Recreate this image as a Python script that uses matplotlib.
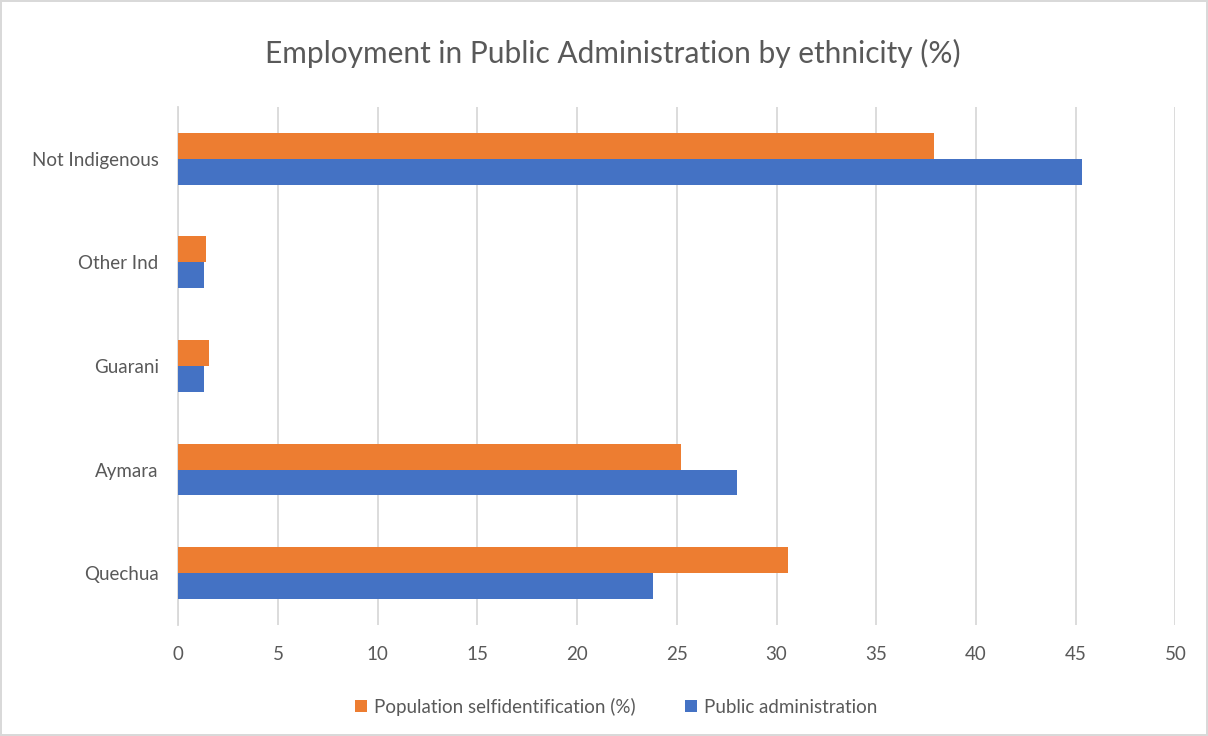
import numpy as np
import matplotlib
matplotlib.use("Agg")
import matplotlib.pyplot as plt

categories = ["Quechua", "Aymara", "Guarani", "Other Ind", "Not Indigenous"]
population_self_id = [30.6, 25.2, 1.55, 1.4, 37.9]
public_admin = [23.8, 28.0, 1.3, 1.3, 45.3]
xticks = [0, 5, 10, 15, 20, 25, 30, 35, 40, 45, 50]

ORANGE = "#ED7D31"
BLUE = "#4472C4"
GREY = "#595959"


def main():
    plt.rcParams['font.family'] = ['Lato', 'DejaVu Sans']

    fig = plt.figure(figsize=(12.08, 7.36), dpi=100)
    fig.patch.set_edgecolor("#D9D9D9")
    fig.patch.set_linewidth(1.5)
    ax = fig.add_axes([0.1475, 0.151, 0.8255, 0.7036])

    y = np.arange(len(categories))
    h = 0.25
    ax.barh(y + h / 2, population_self_id, height=h, color=ORANGE,
            label="Population selfidentification (%)", zorder=3)
    ax.barh(y - h / 2, public_admin, height=h, color=BLUE,
            label="Public administration", zorder=3)

    ax.set_xlim(0, 50)
    ax.set_ylim(-0.5, len(categories) - 0.5)
    ax.set_xticks(xticks)
    ax.set_yticks(y)
    ax.set_yticklabels(categories)
    ax.xaxis.grid(True, color="#D9D9D9", linewidth=1.3, zorder=0)
    ax.tick_params(axis="both", length=0, labelsize=13.5, colors=GREY)
    ax.tick_params(axis="x", pad=15)
    ax.tick_params(axis="y", pad=14)
    for s in ["top", "right", "bottom"]:
        ax.spines[s].set_visible(False)
    ax.spines["left"].set_color("#D9D9D9")
    ax.spines["left"].set_linewidth(1.3)

    fig.text(0.507, 0.928, "Employment in Public Administration by ethnicity (%)",
             ha="center", va="center", fontsize=21.5, color=GREY)

    fig.legend(loc="center", bbox_to_anchor=(0.51, 0.04), ncol=2, frameon=False,
               fontsize=13.5, handlelength=0.65, handleheight=0.65, handletextpad=0.4,
               columnspacing=2.6, labelcolor=GREY)

    fig.savefig("out.png", dpi=100)


if __name__ == "__main__":
    main()
